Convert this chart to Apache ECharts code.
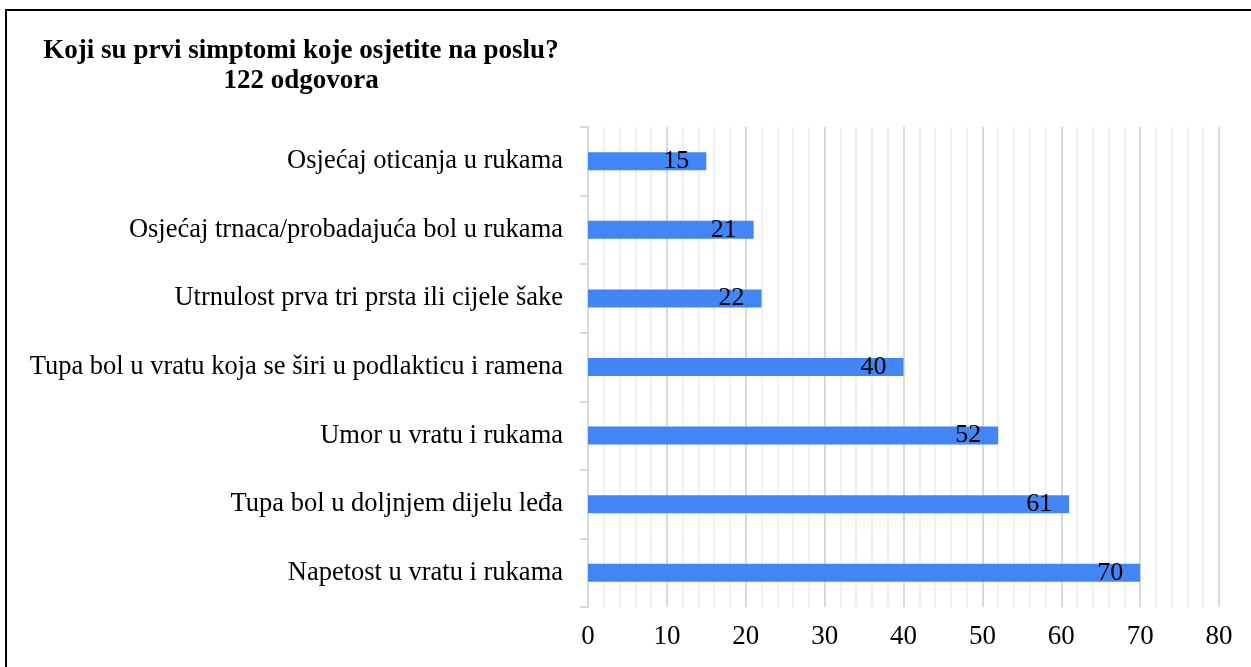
<!DOCTYPE html>
<html style="height: 100%">
<head>
    <meta charset="utf-8">
</head>
<body style="height: 100%; margin: 0; overflow: hidden; background: #fff">
<div id="container" style="width: 1251px; height: 667px"></div>
<div style="position: absolute; left: 5px; top: 9px; width: 1260px; height: 680px; border: 2px solid #000; pointer-events: none"></div>
<script type="text/javascript" src="https://cdn.jsdelivr.net/npm/echarts@6/dist/echarts.min.js"></script>
<script type="text/javascript">
    // odgovori, redoslijed od vrha prema dnu
    var categories = [
        'Osjećaj oticanja u rukama',
        'Osjećaj trnaca/probadajuća bol u rukama',
        'Utrnulost prva tri prsta ili cijele šake',
        'Tupa bol u vratu koja se širi u podlakticu i ramena',
        'Umor u vratu i rukama',
        'Tupa bol u doljnjem dijelu leđa',
        'Napetost u vratu i rukama'
    ];
    var values = [15, 21, 22, 40, 52, 61, 70];
    var titleText = 'Koji su prvi simptomi koje osjetite na poslu?\n122 odgovora';

    var serif = '"Liberation Serif", "DejaVu Serif", serif';
    var myChart = echarts.init(document.getElementById('container'));

    var option = {
        animation: false,
        title: {
            text: titleText,
            left: 296,
            top: 31,
            textAlign: 'center',
            textStyle: {
                fontFamily: serif,
                fontWeight: 'bold',
                fontSize: 27,
                lineHeight: 30,
                color: '#000'
            }
        },
        grid: {
            left: 588,
            right: 32,
            top: 127,
            bottom: 60,
            containLabel: false
        },
        xAxis: {
            type: 'value',
            min: 0,
            max: 80,
            interval: 10,
            axisLine: {show: false},
            axisTick: {show: false},
            axisLabel: {
                fontFamily: serif,
                fontSize: 27,
                color: '#000',
                margin: 16
            },
            splitLine: {show: true, lineStyle: {color: '#d9d9d9', width: 2}},
            minorTick: {show: false, splitNumber: 5},
            minorSplitLine: {show: true, lineStyle: {color: '#efefef', width: 2}}
        },
        yAxis: {
            type: 'category',
            inverse: true,
            data: categories,
            axisLine: {show: true, lineStyle: {color: '#d9d9d9', width: 2}},
            axisTick: {show: true, length: 8, lineStyle: {color: '#d9d9d9', width: 2}},
            axisLabel: {
                fontFamily: serif,
                fontSize: 26.5,
                color: '#000',
                margin: 25
            }
        },
        series: [{
            type: 'bar',
            data: values,
            barWidth: 18,
            itemStyle: {color: '#4285f4'},
            label: {
                show: true,
                position: 'insideRight',
                distance: 17,
                fontFamily: serif,
                fontSize: 26,
                color: '#000'
            }
        }]
    };

    myChart.setOption(option);
</script>
</body>
</html>
